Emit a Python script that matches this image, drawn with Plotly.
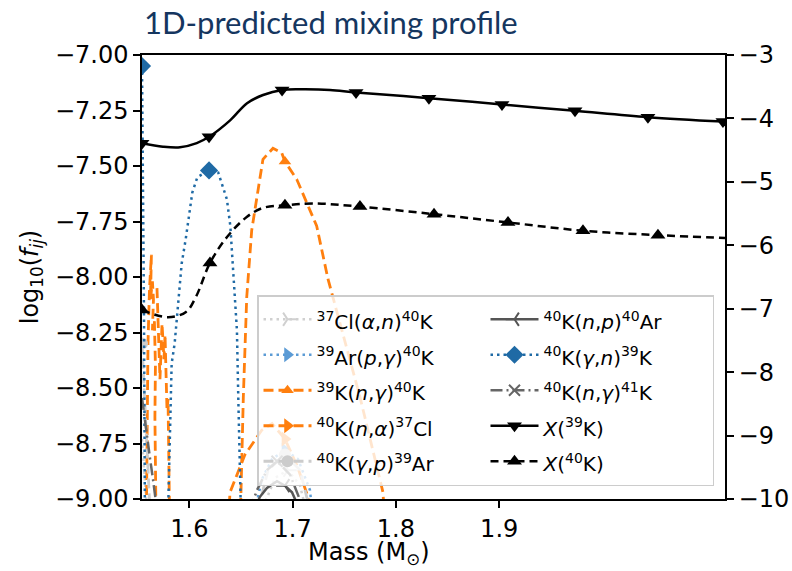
import plotly.graph_objects as go

# ---------------- data ----------------
# Mass fractions (right axis, log10 X)
mass_x39 = [1.5542, 1.5745, 1.5910, 1.6072, 1.6191, 1.6395, 1.6559, 1.6714, 1.6898,
            1.7101, 1.7362, 1.7614, 1.8320, 1.9027, 1.9734, 2.0440, 2.1166]
logX_39K = [-4.39, -4.445, -4.455, -4.39, -4.29, -4.03, -3.76, -3.63, -3.55,
            -3.54, -3.55, -3.59, -3.68, -3.78, -3.88, -3.98, -4.05]
marks_39K = [0, 4, 8, 11, 12, 13, 14, 15, 16]

mass_x40 = [1.5542, 1.5794, 1.5968, 1.6065, 1.6200, 1.6365, 1.6559, 1.6714, 1.6926,
            1.7197, 1.7652, 1.8369, 1.9085, 1.9811, 2.0537, 2.1186]
logX_40K = [-7.02, -7.135, -7.05, -6.81, -6.28, -5.87, -5.55, -5.41, -5.37,
            -5.34, -5.39, -5.51, -5.64, -5.77, -5.84, -5.885]
marks_40K = [0, 4, 8, 10, 11, 12, 13, 14]

# Reaction flux coefficients (left axis, log10 f_ij)
mass_gn = [1.5542, 1.5551, 1.5561, 1.5570, 1.5700, 1.5795, 1.5829, 1.5858, 1.5926,
           1.5965, 1.6029, 1.6078, 1.6191, 1.6280, 1.6364, 1.6397, 1.6461, 1.6474,
           1.6494, 1.6499, 1.6600]
f_40K_gn_39K = [-7.05, -7.45, -8.15, -9.05, -9.6, -9.05, -8.39, -8.30, -7.94,
                -7.83, -7.62, -7.55, -7.52, -7.53, -7.65, -7.77, -8.24, -8.54,
                -8.97, -9.05, -9.6]
marks_gn = [0, 12]

mass_ng40 = [1.5585, 1.5600, 1.5614, 1.5624, 1.5633, 1.5624, 1.5643, 1.5653, 1.5643,
             1.5662, 1.5672, 1.5667, 1.5677, 1.6100, 1.6496, 1.6500, 1.6523, 1.6556,
             1.6604, 1.6665, 1.6713, 1.6810, 1.6894, 1.6926, 1.7040, 1.7233, 1.7343,
             1.7652, 1.7875, 1.7885]
f_39K_ng_40K = [-9.05, -8.30, -8.06, -7.95, -7.90, -8.10, -8.02, -8.10, -8.24,
                -8.20, -8.40, -8.63, -9.05, -9.6, -9.05, -8.973, -8.54, -8.09,
                -7.79, -7.61, -7.47, -7.42, -7.44, -7.48, -7.56, -7.77, -8.01,
                -8.54, -8.97, -9.05]
marks_ng40 = [23]

mass_na = [1.5687, 1.5697, 1.5716, 1.5736, 1.5745, 1.5755, 1.5765, 1.5774, 1.5784,
           1.5794, 1.5803, 1.5808, 1.6104, 1.6384, 1.6394, 1.6539, 1.6701, 1.6801,
           1.6926, 1.7043, 1.7149, 1.7159]
f_40K_na_37Cl = [-8.05, -8.19, -8.46, -8.21, -8.30, -8.37, -8.26, -8.45, -8.60,
                 -8.55, -8.87, -9.05, -9.6, -9.05, -8.97, -8.80, -8.69, -8.66,
                 -8.73, -8.85, -8.99, -9.05]
marks_na = [18]

mass_pg = [1.6636, 1.6704, 1.6801, 1.6926, 1.7052, 1.7168, 1.7188]
f_39Ar_pg_40K = [-9.05, -8.91, -8.82, -8.78, -8.82, -8.96, -9.05]
marks_pg = [3]

mass_gp = [1.5542, 1.5561, 1.5581, 1.5600, 1.5619, 1.6104, 1.6665, 1.6762, 1.6926,
           1.7072, 1.7168]
f_40K_gp_39Ar = [-8.30, -8.49, -8.69, -8.87, -9.05, -9.6, -9.05, -8.87, -8.80,
                 -8.87, -9.05]
marks_gp = [0, 8]

mass_ng41 = [1.5542, 1.5581, 1.5619, 1.5648, 1.5677, 1.5687, 1.6104, 1.6588, 1.6655,
             1.6752, 1.6849, 1.6975, 1.7072, 1.7091]
f_40K_ng_41K = [-8.545, -8.69, -8.815, -8.91, -9.005, -9.05, -9.6, -9.05, -8.96,
                -8.87, -8.83, -8.89, -9.005, -9.05]
marks_ng41 = [10]

mass_np = [1.6626, 1.6684, 1.6752, 1.6849, 1.6926, 1.6994, 1.7052, 1.7072]
f_40K_np_40Ar = [-9.05, -8.99, -8.95, -8.92, -8.94, -8.97, -9.03, -9.05]
marks_np = [4]

mass_an = [1.5542, 1.5571, 1.5590, 1.6104, 1.6704, 1.6830, 1.6955, 1.7072, 1.7130]
f_37Cl_an_40K = [-8.73, -8.91, -9.05, -9.6, -9.05, -8.905, -8.87, -8.94, -9.05]
marks_an = [6]

x_tickvals = [1.6, 1.7, 1.8, 1.9]
x_ticktext = ["1.6", "1.7", "1.8", "1.9"]
yL_tickvals = [-7.0, -7.25, -7.5, -7.75, -8.0, -8.25, -8.5, -8.75, -9.0]
yL_ticktext = ["\u22127.00", "\u22127.25", "\u22127.50", "\u22127.75", "\u22128.00",
               "\u22128.25", "\u22128.50", "\u22128.75", "\u22129.00"]
yR_tickvals = [-3, -4, -5, -6, -7, -8, -9, -10]
yR_ticktext = ["\u22123", "\u22124", "\u22125", "\u22126", "\u22127", "\u22128", "\u22129", "\u221210"]

title_text = "1D-predicted mixing profile"
xlabel_text = "Mass (M<sub>⊙</sub>)"
ylabel_text = "log<sub>10</sub>(<i>f</i><sub><i>ij</i></sub>)"

# ---------------- styles ----------------
series = [
    dict(name="<sup>37</sup>Cl(<i>α</i>,<i>n</i>)<sup>40</sup>K", x=mass_an, y=f_37Cl_an_40K,
         marks=marks_an, color="#d0d0d0", dash="2.5px,4px", width=2.5, symbol="y-right", ms=11, axis="y"),
    dict(name="<sup>39</sup>Ar(<i>p</i>,<i>γ</i>)<sup>40</sup>K", x=mass_pg, y=f_39Ar_pg_40K,
         marks=marks_pg, color="#5b9bd5", dash="2.5px,4px", width=2.5, symbol="triangle-right", ms=13, axis="y"),
    dict(name="<sup>39</sup>K(<i>n</i>,<i>γ</i>)<sup>40</sup>K", x=mass_ng40, y=f_39K_ng_40K,
         marks=marks_ng40, color="#ff7f0e", dash="10px,5px", width=2.8, symbol="triangle-up", ms=11, axis="y"),
    dict(name="<sup>40</sup>K(<i>n</i>,<i>α</i>)<sup>37</sup>Cl", x=mass_na, y=f_40K_na_37Cl,
         marks=marks_na, color="#ff7f0e", dash="10px,5px", width=2.8, symbol="triangle-right", ms=13, axis="y"),
    dict(name="<sup>40</sup>K(<i>γ</i>,<i>p</i>)<sup>39</sup>Ar", x=mass_gp, y=f_40K_gp_39Ar,
         marks=marks_gp, color="#cccccc", dash="10px,5px", width=2.8, symbol="circle", ms=12, axis="y"),
    dict(name="<sup>40</sup>K(<i>n</i>,<i>p</i>)<sup>40</sup>Ar", x=mass_np, y=f_40K_np_40Ar,
         marks=marks_np, color="#555555", dash="solid", width=2.5, symbol="y-left", ms=11, axis="y"),
    dict(name="<sup>40</sup>K(<i>γ</i>,<i>n</i>)<sup>39</sup>K", x=mass_gn, y=f_40K_gn_39K,
         marks=marks_gn, color="#1f6aa5", dash="2.5px,4px", width=2.5, symbol="diamond", ms=14, axis="y"),
    dict(name="<sup>40</sup>K(<i>n</i>,<i>γ</i>)<sup>41</sup>K", x=mass_ng41, y=f_40K_ng_41K,
         marks=marks_ng41, color="#666666", dash="12px,4px,2px,4px", width=2.5, symbol="x-thin", ms=11, axis="y"),
    dict(name="<i>X</i>(<sup>39</sup>K)", x=mass_x39, y=logX_39K,
         marks=marks_39K, color="#000000", dash="solid", width=2.5, symbol="triangle-down", ms=13, axis="y2"),
    dict(name="<i>X</i>(<sup>40</sup>K)", x=mass_x40, y=logX_40K,
         marks=marks_40K, color="#000000", dash="8px,5px", width=2.5, symbol="triangle-up", ms=13, axis="y2"),
]

line_symbols = {"y-right", "y-left", "x-thin"}


def marker_style(s):
    mk = dict(symbol=s["symbol"], size=s["ms"], color=s["color"])
    if s["symbol"] in line_symbols:
        mk["line"] = dict(color=s["color"], width=2)
    return mk


fig = go.Figure()
for s in series:
    shape = "spline" if s["axis"] == "y2" else "linear"
    fig.add_trace(go.Scatter(
        x=s["x"], y=s["y"], mode="lines", yaxis=s["axis"], showlegend=False,
        line=dict(color=s["color"], width=s["width"], dash=s["dash"], shape=shape),
        hoverinfo="skip"))
    fig.add_trace(go.Scatter(
        x=[s["x"][i] for i in s["marks"]], y=[s["y"][i] for i in s["marks"]],
        mode="markers", yaxis=s["axis"], showlegend=False, marker=marker_style(s),
        cliponaxis=True, hoverinfo="skip"))

# legend entries, interleaved so that a 2-per-row horizontal legend reads as two columns
left_col = series[:5]
right_col = series[5:]
for a, b in zip(left_col, right_col):
    for s in (a, b):
        fig.add_trace(go.Scatter(
            x=[None], y=[None], mode="lines+markers",
            name='<span style="font-size:20px">' + s["name"] + "</span>", yaxis=s["axis"],
            line=dict(color=s["color"], width=s["width"], dash=s["dash"]), marker=marker_style(s)))

FONT = "DejaVu Sans, sans-serif"
tick_font = dict(family=FONT, size=24, color="black")
axis_common = dict(showline=True, linecolor="black", linewidth=1.5, ticks="outside",
                   ticklen=7, tickwidth=1.5, tickcolor="black", showgrid=False,
                   zeroline=False, tickfont=tick_font, automargin=False)

fig.update_layout(
    width=792, height=571,
    margin=dict(l=142, r=67, t=55, b=72),
    paper_bgcolor="white", plot_bgcolor="white",
    font=dict(family=FONT, color="black", size=22),
    title=dict(text=title_text, xref="container", yref="container",
               x=144 / 792, xanchor="left", y=1 - 23 / 571, yanchor="middle",
               font=dict(family="Lato", size=31, color="#15365f")),
    xaxis=dict(range=[1.5542, 2.1186], tickvals=x_tickvals, ticktext=x_ticktext,
               mirror=True, **axis_common),
    yaxis=dict(range=[-9, -7], tickvals=yL_tickvals, ticktext=yL_ticktext,
               title=dict(text=ylabel_text,
                          font=dict(family=FONT, size=24, color="black"), standoff=10),
               **axis_common),
    yaxis2=dict(range=[-10, -3], tickvals=yR_tickvals, ticktext=yR_ticktext,
                overlaying="y", side="right", anchor="x", **axis_common),
    annotations=[dict(text=xlabel_text, xref="paper", yref="paper",
                      x=(369 - 142) / 583, y=(499 - 553) / 444, xanchor="center",
                      yanchor="middle", showarrow=False,
                      font=dict(family=FONT, size=24, color="black"))],
    legend=dict(orientation="h", x=(714 - 142) / 583, y=(499 - 295) / 444,
                xanchor="right", yanchor="top", entrywidth=164, entrywidthmode="pixels",
                bgcolor="rgba(255,255,255,0.8)", bordercolor="#cccccc", borderwidth=1.5,
                font=dict(family=FONT, size=25, color="black"),
                traceorder="normal", itemwidth=48),
)

fig.write_html("out.html")
